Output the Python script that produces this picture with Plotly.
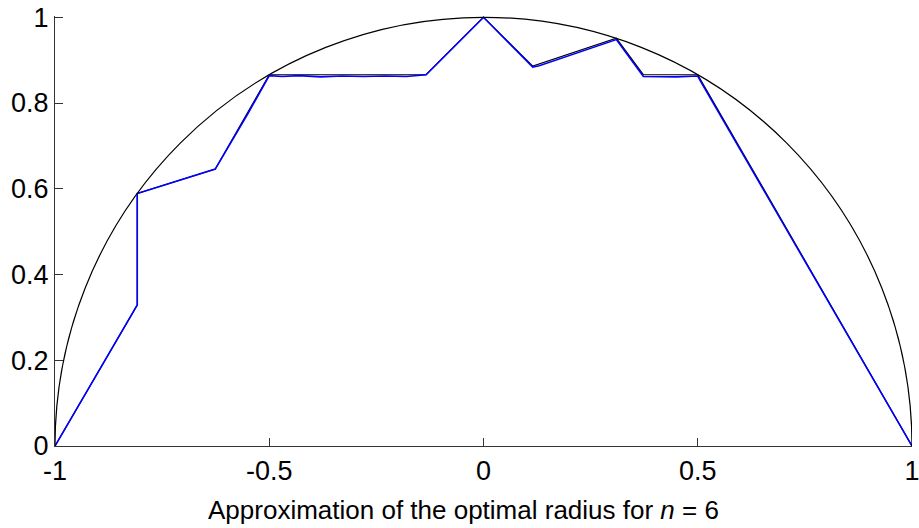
import plotly.graph_objects as go

# Polygon vertices (black reference polyline)
poly_x = [-1, -0.808, -0.808, -0.626, -0.5, -0.134, 0, 0.115, 0.31, 0.373, 0.5, 1]
poly_y = [0, 0.329, 0.589, 0.646, 0.866, 0.866, 1, 0.886, 0.951, 0.866, 0.866, 0]

# Blue approximation (small wobbles on plateaus)
approx_x = [-1, -0.808, -0.808, -0.626, -0.55, -0.52, -0.5, -0.47, -0.43, -0.38, -0.33,
            -0.28, -0.23, -0.18, -0.134, 0, 0.115, 0.13, 0.31, 0.373,
            0.41, 0.45, 0.5, 0.507, 1]
approx_y = [0, 0.329, 0.589, 0.646, 0.775, 0.83, 0.864, 0.862, 0.864, 0.861, 0.863,
            0.862, 0.863, 0.862, 0.866, 1, 0.884, 0.887, 0.948, 0.862,
            0.862, 0.861, 0.863, 0.85, 0]

x_ticks = [-1, -0.5, 0, 0.5, 1]
x_labels = ["-1", "-0.5", "0", "0.5", "1"]
y_ticks = [0, 0.2, 0.4, 0.6, 0.8, 1]
y_labels = ["0", "0.2", "0.4", "0.6", "0.8", "1"]

FONT = "Liberation Sans"

fig = go.Figure()
fig.add_trace(go.Scatter(x=poly_x, y=poly_y, mode="lines",
                         line=dict(color="black", width=1.2), hoverinfo="skip"))
fig.add_trace(go.Scatter(x=approx_x, y=approx_y, mode="lines",
                         line=dict(color="#0000ff", width=1.6), hoverinfo="skip"))

# unit circle (upper half visible after clipping)
fig.add_shape(type="circle", xref="x", yref="y", x0=-1, y0=-1, x1=1, y1=1,
              line=dict(color="black", width=1.2), layer="above")

fig.update_layout(
    width=919, height=528,
    margin=dict(l=55, r=7, t=16, b=82),
    plot_bgcolor="white", paper_bgcolor="white",
    showlegend=False,
    font=dict(family=FONT, color="black"),
    xaxis=dict(range=[-1, 1], tickvals=x_ticks, ticktext=x_labels,
               showgrid=False, zeroline=False, showline=True, linecolor="#333",
               linewidth=1.2, ticks="inside", ticklen=8, tickcolor="#333",
               tickfont=dict(size=27, family=FONT), mirror=False, automargin=False,
               ticklabeloverflow="allow"),
    yaxis=dict(range=[0, 1.003], tickvals=y_ticks, ticktext=y_labels,
               showgrid=False, zeroline=False, showline=True, linecolor="#333",
               linewidth=1.2, ticks="inside", ticklen=8, tickcolor="#333",
               tickfont=dict(size=27, family=FONT), mirror=False, automargin=False,
               ticklabeloverflow="allow"),
    annotations=[dict(text="Approximation of the optimal radius for <i>n</i> = 6",
                      xref="paper", yref="paper", x=0.4767, y=-0.148,
                      xanchor="center", yanchor="middle", showarrow=False,
                      font=dict(size=26, family=FONT))],
)

fig.write_html("out.html")
